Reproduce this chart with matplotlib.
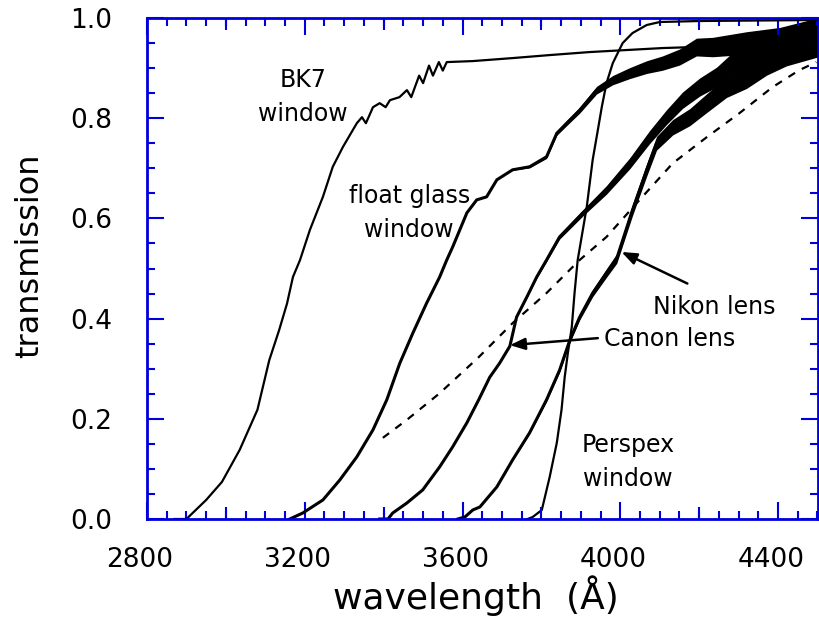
import numpy as np
import matplotlib
matplotlib.use('Agg')
import matplotlib.pyplot as plt
import matplotlib.transforms as mtransforms
from matplotlib.ticker import MultipleLocator, FormatStrFormatter

# Transmission curves (wavelength in Angstrom)
bk7_wl = [2870, 2900, 2950, 2990, 3035, 3080, 3110, 3135, 3155, 3170, 3188, 3213,
          3246, 3271, 3297, 3332, 3345, 3355, 3373, 3390, 3405, 3416, 3440, 3459,
          3470, 3490, 3500, 3515, 3525, 3540, 3550, 3560, 3626, 3727, 3821, 3922,
          4107, 4500]
bk7_tr = [0.0, 0.0, 0.038, 0.074, 0.138, 0.218, 0.317, 0.377, 0.43, 0.483, 0.517, 0.577,
          0.643, 0.703, 0.743, 0.79, 0.802, 0.79, 0.822, 0.83, 0.822, 0.836, 0.842, 0.856,
          0.842, 0.885, 0.87, 0.905, 0.885, 0.912, 0.895, 0.912, 0.914, 0.92, 0.926, 0.932,
          0.94, 0.95]

float_wl = [3162, 3195, 3246, 3289, 3332, 3373, 3408, 3441, 3474, 3509, 3542, 3560,
            3575, 3611, 3636, 3661, 3687, 3727, 3770, 3813, 3839, 3864, 3897, 3940,
            3981, 4024, 4067, 4107, 4150, 4193, 4234, 4320, 4404, 4487, 4500]
float_tr = [0.0, 0.012, 0.038, 0.078, 0.124, 0.178, 0.238, 0.311, 0.371, 0.431, 0.483, 0.517,
            0.543, 0.611, 0.637, 0.643, 0.677, 0.697, 0.703, 0.723, 0.77, 0.79, 0.816, 0.856,
            0.876, 0.89, 0.902, 0.91, 0.922, 0.942, 0.942, 0.95, 0.956, 0.97, 0.97]

canon_wl = [3390, 3411, 3423, 3459, 3499, 3542, 3575, 3611, 3641, 3669, 3694, 3720,
            3737, 3763, 3788, 3813, 3846, 3905, 3965, 4024, 4074, 4117, 4158, 4201,
            4244, 4285, 4335, 4386, 4454, 4500]
canon_tr = [0.0, 0.0, 0.012, 0.032, 0.058, 0.104, 0.144, 0.192, 0.238, 0.283, 0.311, 0.345,
            0.403, 0.443, 0.483, 0.517, 0.563, 0.611, 0.657, 0.71, 0.762, 0.802, 0.836, 0.862,
            0.882, 0.91, 0.93, 0.942, 0.956, 0.962]

nikon_wl = [3588, 3606, 3626, 3644, 3687, 3727, 3770, 3813, 3846, 3872, 3897, 3930,
            3965, 3991, 4031, 4067, 4092, 4133, 4176, 4219, 4269, 4320, 4371, 4421, 4500]
nikon_tr = [0.0, 0.004, 0.018, 0.024, 0.064, 0.118, 0.172, 0.238, 0.297, 0.357, 0.403, 0.451,
            0.491, 0.52, 0.617, 0.697, 0.75, 0.782, 0.802, 0.83, 0.862, 0.882, 0.91, 0.93, 0.95]

perspex_wl = [3765, 3778, 3801, 3821, 3839, 3851, 3859, 3867, 3877, 3884, 3892, 3915,
              3930, 3943, 3953, 3965, 3981, 4006, 4031, 4067, 4100, 4201, 4500]
perspex_tr = [0.0, 0.004, 0.018, 0.084, 0.152, 0.218, 0.283, 0.331, 0.383, 0.451, 0.517, 0.623,
              0.717, 0.776, 0.822, 0.87, 0.91, 0.95, 0.97, 0.986, 0.992, 0.994, 0.996]

dashed_wl = [3398, 3459, 3542, 3641, 3727, 3813, 3897, 3965, 4049, 4133, 4219, 4302,
             4386, 4454, 4497]
dashed_tr = [0.162, 0.198, 0.251, 0.323, 0.391, 0.451, 0.517, 0.563, 0.637, 0.71, 0.762, 0.81,
             0.862, 0.896, 0.912]

# rough half-width of the noise on the spectrometer curves
noise_wl = [3700, 3900, 4100, 4300, 4500]
noise_half = [0.0, 0.006, 0.014, 0.022, 0.028]

blue = '#0000dd'
plt.rcParams['font.family'] = ['DejaVu Sans']

fig = plt.figure(figsize=(8.19, 6.29), dpi=100)
ax = fig.add_axes([147 / 819, 110 / 629, 670.5 / 819, 501 / 629])

ax.plot(bk7_wl, bk7_tr, color='black', lw=1.6)
ax.plot(perspex_wl, perspex_tr, color='black', lw=1.6)
for wl, tr in [(float_wl, float_tr), (canon_wl, canon_tr), (nikon_wl, nikon_tr)]:
    h = np.interp(wl, noise_wl, noise_half)
    t = np.array(tr)
    ax.fill_between(wl, np.clip(t - h, 0, None), np.clip(t + h, None, 1.0), color='black', lw=0)
    ax.plot(wl, tr, color='black', lw=2.2)
ax.plot(dashed_wl, dashed_tr, color='black', lw=1.6, dashes=(3.5, 3.5))

ax.set_xlim(2800, 4500)
ax.set_ylim(0, 1.0)
ax.xaxis.set_major_locator(MultipleLocator(400))
ax.xaxis.set_minor_locator(MultipleLocator(50))
ax.yaxis.set_major_locator(MultipleLocator(0.2))
ax.yaxis.set_minor_locator(MultipleLocator(0.05))
ax.yaxis.set_major_formatter(FormatStrFormatter('%.1f'))

ax.tick_params(which='both', direction='in', colors=blue, top=True, right=True,
               labelcolor='black', width=1.5)
ax.tick_params(which='major', length=12, labelsize=19)
ax.tick_params(which='minor', length=6)
ax.tick_params(axis='x', which='major', pad=20)
ax.tick_params(axis='y', which='major', pad=25)
for sp in ax.spines.values():
    sp.set_color(blue)
    sp.set_linewidth(2)

# long ticks also at the unlabelled 200 A positions
for xw in [3000, 3400, 3800, 4200]:
    ax.plot([xw, xw], [0, 12 / 501], color=blue, lw=1.5, clip_on=False, solid_capstyle='butt')
    ax.plot([xw, xw], [1 - 12 / 501, 1], color=blue, lw=1.5, clip_on=False, solid_capstyle='butt')

shift = mtransforms.ScaledTranslation(-7 / 100, 0, fig.dpi_scale_trans)
for lab in ax.get_xticklabels():
    lab.set_transform(lab.get_transform() + shift)

ax.set_xlabel('wavelength  (Å)', fontsize=26)
ax.xaxis.set_label_coords(0.49, -0.112)
ax.set_ylabel('transmission', fontsize=23)
ax.yaxis.set_label_coords(-0.152, 0.525)

txt = dict(fontsize=17, ha='center', va='center', linespacing=1.55)
ax.text(3195, 0.842, 'BK7\nwindow', **txt)
ax.text(3465, 0.611, 'float glass\nwindow', **txt)
ax.text(4020, 0.114, 'Perspex\nwindow', **txt)
ax.text(4239, 0.423, 'Nikon lens', **txt)
ax.text(4125, 0.359, 'Canon lens', **txt)

arrow = dict(arrowstyle='-|>,head_length=0.9,head_width=0.35', color='black', lw=1.8,
             shrinkA=0, shrinkB=0)
ax.annotate('', xy=(3720, 0.347), xytext=(3943, 0.361), arrowprops=arrow)
ax.annotate('', xy=(4003, 0.533), xytext=(4170, 0.47), arrowprops=arrow)

fig.savefig('out.png', dpi=100)
